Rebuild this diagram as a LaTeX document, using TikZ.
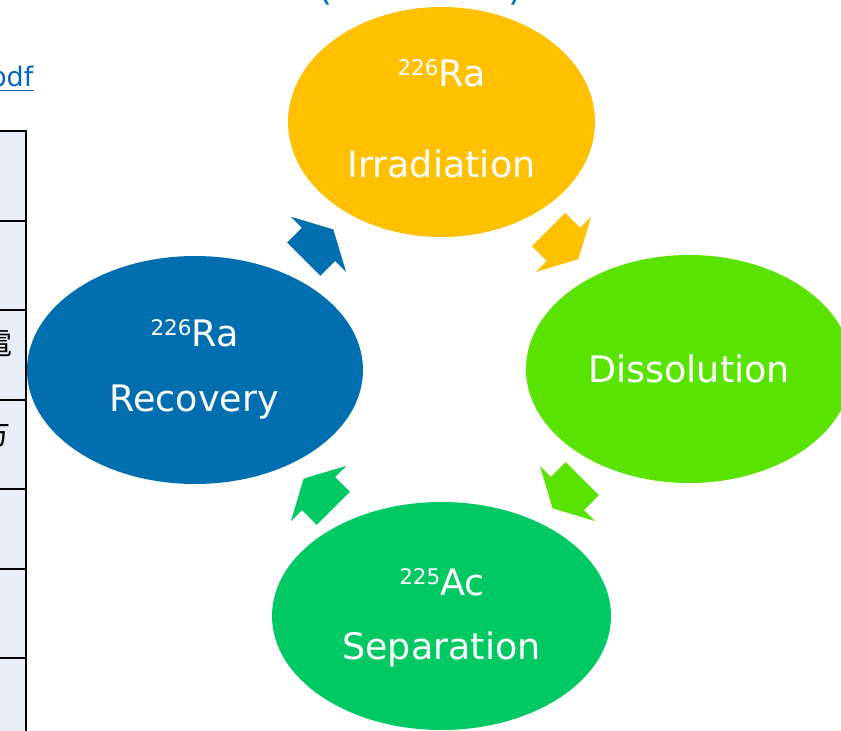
\documentclass[tikz,border=0pt]{standalone}
\usepackage{fontspec}
\setmainfont{DejaVu Sans}
\newfontfamily\cjk{Noto Sans CJK JP}
\usetikzlibrary{shapes.geometric}
\definecolor{cyellow}{HTML}{FFC000}
\definecolor{clime}{HTML}{5AE300}
\definecolor{cgreen}{HTML}{00C963}
\definecolor{cblue}{HTML}{006EAF}
\definecolor{ctitle}{HTML}{0070C0}
\definecolor{clink}{HTML}{0563C1}
\definecolor{ctable}{HTML}{E8EEF8}
\tikzset{
  stage/.style={ellipse, draw=none, inner sep=0pt},
  lbl/.style={text=white, inner sep=0pt, anchor=base, font=\fontsize{36.5}{44}\selectfont},
  gridline/.style={line width=2.5pt, draw=black},
  barrow/.pic={\path[pic actions] (-21,-23.5) -- (0,-23.5) -- (0,-39) -- (21,0) -- (0,39) -- (0,23.5) -- (-21,23.5) -- cycle;}
}
\newcommand{\isosup}[1]{{\fontsize{21.5}{25}\selectfont\raisebox{11pt}{#1}}}
\begin{document}
\begin{tikzpicture}[x=1pt,y=-1pt]
\useasboundingbox (0,0) rectangle (841,731);
\fill[white] (0,0) rectangle (841,731);
% partial table at left
\fill[ctable] (-20,131) rectangle (26,745);
\foreach \yy in {131,221,310,400,489,569,658}
  \draw[gridline] (-20,\yy) -- (27,\yy);
\draw[gridline] (26,130) -- (26,745);
\node[anchor=base east, inner sep=0pt, font=\cjk\fontsize{30}{30}\selectfont] (c1) at (12.5,354) {電};
\node[anchor=base east, inner sep=0pt, font=\cjk\fontsize{30}{30}\selectfont] (c2) at (11,444) {方};
% partial link
\node[anchor=base east, inner sep=0pt, text=clink, font=\fontsize{27}{30}\selectfont] (lnk) at (33.5,86) {pdf};
\draw[clink, line width=1.3pt] (-5,90.5) -- (33.5,90.5);
% partial title
\node[anchor=south, inner sep=0pt, text=ctitle, font=\fontsize{36}{40}\selectfont] (t1) at (326,5) {(};
\node[anchor=south, inner sep=0pt, text=ctitle, font=\fontsize{36}{40}\selectfont] (t2) at (516,5) {)};
% stages
\node[stage, fill=cyellow, minimum width=307pt, minimum height=230pt] (irr) at (441.5,122) {};
\node[stage, fill=clime, minimum width=326pt, minimum height=228pt] (dis) at (689,369) {};
\node[stage, fill=cblue, minimum width=336pt, minimum height=228pt] (rec) at (195,370) {};
\node[stage, fill=cgreen, minimum width=339pt, minimum height=228pt] (sep) at (441.5,616) {};
% labels
\node[lbl] (irrA) at (441.5,86) {\isosup{226}Ra};
\node[lbl] (irrB) at (441.5,177) {Irradiation};
\node[lbl] (disA) at (689,382) {Dissolution};
\node[lbl] (recA) at (194.5,346) {\isosup{226}Ra};
\node[lbl] (recB) at (194,411) {Recovery};
\node[lbl] (sepA) at (442,595) {\isosup{225}Ac};
\node[lbl] (sepB) at (441.5,659) {Separation};
% block arrows
\pic[fill=cblue, rotate=45] at (318.5,244.3) {barrow};
\pic[fill=cyellow, rotate=-45] at (563.5,244.3) {barrow};
\pic[fill=clime, rotate=-135] at (567.5,493.5) {barrow};
\pic[fill=cgreen, rotate=135] at (318.5,493.5) {barrow};
\end{tikzpicture}
\end{document}
